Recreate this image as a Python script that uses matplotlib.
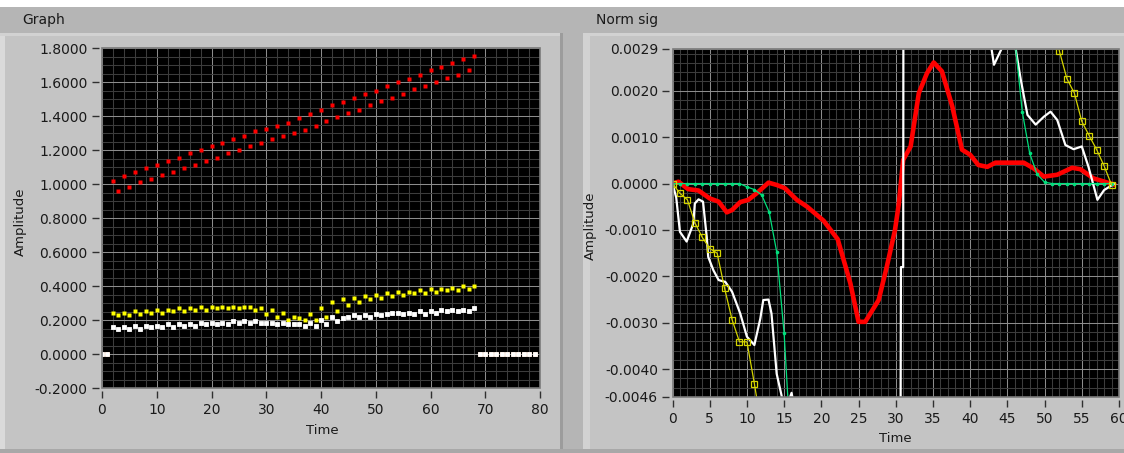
import numpy as np
import matplotlib
matplotlib.use("Agg")
import matplotlib.pyplot as plt
from matplotlib.patches import Rectangle
from matplotlib.ticker import MultipleLocator, FixedLocator, FixedFormatter

W, H = 1124, 453

# ---------------- Left graph ("Graph") ----------------
graph_time = list(range(80))
graph_red = [0, 0,
             1.017, 0.957, 1.050, 0.983, 1.068, 1.009, 1.096, 1.027, 1.111, 1.052,
             1.137, 1.070, 1.155, 1.096, 1.180, 1.111, 1.198, 1.137, 1.221, 1.155,
             1.239, 1.180, 1.264, 1.198, 1.282, 1.223, 1.310, 1.239, 1.326, 1.267,
             1.343, 1.284, 1.361, 1.300, 1.386, 1.317, 1.412, 1.343, 1.438, 1.369,
             1.463, 1.394, 1.481, 1.420, 1.506, 1.438, 1.532, 1.463, 1.547, 1.489,
             1.575, 1.506, 1.600, 1.532, 1.616, 1.557, 1.642, 1.575, 1.668, 1.601,
             1.686, 1.626, 1.711, 1.644, 1.736, 1.670, 1.754,
             0, 0, 0, 0, 0, 0, 0, 0, 0, 0, 0]
graph_yellow = [0, 0,
                0.244, 0.228, 0.244, 0.228, 0.254, 0.236, 0.254, 0.244, 0.261, 0.244,
                0.261, 0.254, 0.270, 0.254, 0.270, 0.261, 0.279, 0.261, 0.279, 0.270,
                0.279, 0.270, 0.279, 0.270, 0.279, 0.279, 0.261, 0.270, 0.236, 0.261,
                0.220, 0.244, 0.202, 0.220, 0.211, 0.202, 0.236, 0.202, 0.270, 0.218,
                0.305, 0.254, 0.323, 0.287, 0.330, 0.305, 0.340, 0.323, 0.348, 0.330,
                0.356, 0.340, 0.366, 0.348, 0.366, 0.356, 0.374, 0.356, 0.382, 0.366,
                0.382, 0.374, 0.391, 0.374, 0.399, 0.382, 0.399,
                0, 0, 0, 0, 0, 0, 0, 0, 0, 0, 0]
graph_white = [0, 0,
               0.159, 0.149, 0.159, 0.149, 0.167, 0.149, 0.167, 0.159, 0.167, 0.159,
               0.175, 0.159, 0.175, 0.167, 0.175, 0.167, 0.183, 0.175, 0.183, 0.175,
               0.183, 0.175, 0.193, 0.183, 0.193, 0.183, 0.193, 0.183, 0.183, 0.183,
               0.175, 0.183, 0.175, 0.175, 0.175, 0.165, 0.185, 0.165, 0.201, 0.175,
               0.218, 0.193, 0.211, 0.218, 0.228, 0.218, 0.228, 0.218, 0.236, 0.228,
               0.236, 0.244, 0.244, 0.236, 0.244, 0.236, 0.254, 0.236, 0.254, 0.244,
               0.261, 0.254, 0.261, 0.254, 0.261, 0.254, 0.270,
               0, 0, 0, 0, 0, 0, 0, 0, 0, 0, 0]
graph_yticks = [-0.2, 0.0, 0.2, 0.4, 0.6, 0.8, 1.0, 1.2, 1.4, 1.6, 1.8]
graph_ylabels = ["-0.2000", "0.0000", "0.2000", "0.4000", "0.6000", "0.8000",
                 "1.0000", "1.2000", "1.4000", "1.6000", "1.8000"]
graph_xticks = [0, 10, 20, 30, 40, 50, 60, 70, 80]

# ---------------- Right graph ("Norm sig"), values in units of 1e-3 ----------------
norm_red_t = [0, 0.8, 2.1, 3.5, 5.0, 6.2, 7.3, 8.0, 9.1, 10.2, 11.3, 12.9, 14.0, 15.1,
              16.7, 18.1, 20.3, 22.2, 23.9, 25.0, 25.9, 27.7, 28.8, 29.9, 30.4, 31.0,
              32.0, 33.1, 34.2, 35.1, 36.2, 37.6, 38.9, 40.0, 41.1, 42.3, 43.4, 47.2,
              48.5, 49.9, 51.7, 53.7, 54.8, 56.6, 59.3]
norm_red_m = [0, 0.04, -0.12, -0.15, -0.32, -0.39, -0.62, -0.57, -0.40, -0.35, -0.21,
              0.02, -0.03, -0.10, -0.35, -0.50, -0.80, -1.20, -2.15, -2.98, -2.98,
              -2.51, -1.79, -1.00, -0.45, 0.51, 0.80, 1.95, 2.38, 2.61, 2.42, 1.66,
              0.73, 0.62, 0.40, 0.36, 0.45, 0.45, 0.33, 0.15, 0.19, 0.34, 0.31, 0.11,
              -0.02]

norm_white_t = [0, 0.5, 1.0, 1.9, 2.8, 3.0, 3.5, 4.1, 4.6, 4.8, 5.5, 6.2, 7.1, 8.0, 9.1,
                10.0, 11.0, 11.8, 12.2, 12.9, 13.3, 14.0, 14.7, 15.2, 16.0, 16.8,
                30.6, 30.7, 31.0, 31.05, 42.0, 42.4, 43.2, 44.8, 45.4, 46.8, 47.7, 48.8,
                49.9, 50.8, 51.7, 52.8, 53.9, 55.0, 55.9, 57.1, 58.0, 59.3]
norm_white_m = [0, -0.30, -1.04, -1.25, -0.86, -0.43, -0.34, -0.39, -1.15, -1.58, -1.87,
                -2.08, -2.12, -2.33, -2.80, -3.30, -3.48, -2.91, -2.51, -2.50, -2.80,
                -4.10, -4.60, -4.90, -4.51, -5.20,
                -8.0, -1.80, -1.80, 8.0, 8.0, 3.40, 2.56, 3.10, 3.60, 2.24, 1.48, 1.27,
                1.44, 1.55, 1.37, 0.83, 0.74, 0.80, 0.36, -0.35, -0.14, -0.01]

nan = float("nan")
norm_green_t = [0, 1, 2, 3, 4, 5, 6, 7, 8, 9, 10, 11, 12, 13, 14, 15, 16, 30.7,
                46, 47, 48, 49, 50, 51, 52, 53, 54, 55, 56, 57, 58, 59]
norm_green_m = [0, 0, 0, 0, 0, 0, 0, 0, 0, 0, -0.07, -0.13, -0.25, -0.62, -1.47, -3.23,
                -6.0, nan, 3.10, 1.55, 0.65, 0.20, 0.03, 0, 0, 0, 0, 0, 0, 0, 0, 0]

norm_yellow_t = [0, 1, 2, 3, 4, 5, 6, 7, 8, 9, 10, 11, 12, 30.7,
                 51, 52, 53, 54, 55, 56, 57, 58, 59]
norm_yellow_m = [0, -0.21, -0.35, -0.84, -1.16, -1.40, -1.50, -2.26, -2.93, -3.41, -3.41,
                 -4.31, -5.30, nan, 3.50, 2.85, 2.26, 1.95, 1.34, 1.03, 0.73, 0.38, -0.03]

norm_yticks = [-0.0046, -0.0040, -0.0030, -0.0020, -0.0010, 0.0, 0.0010, 0.0020, 0.0029]
norm_ylabels = ["-0.0046", "-0.0040", "-0.0030", "-0.0020", "-0.0010", "0.0000",
                "0.0010", "0.0020", "0.0029"]
norm_xticks = [0, 5, 10, 15, 20, 25, 30, 35, 40, 45, 50, 55, 60]

plt.rcParams['font.family'] = ['DejaVu Sans']

fig = plt.figure(figsize=(W / 100, H / 100), dpi=100, facecolor='white')


def prect(x0, y0, x1, y1, color, z=0):
    fig.add_artist(Rectangle((x0 / W, 1 - y1 / H), (x1 - x0) / W, (y1 - y0) / H,
                             transform=fig.transFigure, fc=color, ec='none', zorder=z))


# panels / background
prect(0, 0, W, 7, '#ffffff')
prect(0, 7, W, 33, '#b5b5b5')
prect(0, 33, 563, 453, '#c4c4c4')
prect(0, 33, 5, 453, '#dadada')
prect(0, 33, 563, 36, '#d2d2d2')
prect(560, 33, 563, 453, '#9c9c9c')
prect(563, 33, 583, 453, '#b5b5b5')
prect(583, 33, W, 453, '#c4c4c4')
prect(583, 33, 590, 453, '#d2d2d2')
prect(583, 33, W, 36, '#d2d2d2')
prect(0, 449, W, 453, '#a8a8a8')

fig.text(22 / W, 1 - 20 / H, 'Graph', ha='left', va='center', fontsize=10, color='#1a1a1a')
fig.text(596 / W, 1 - 20 / H, 'Norm sig', ha='left', va='center', fontsize=10, color='#1a1a1a')


def make_ax(x0, y0, x1, y1):
    ax = fig.add_axes([x0 / W, 1 - y1 / H, (x1 - x0) / W, (y1 - y0) / H])
    ax.set_facecolor('black')
    for s in ax.spines.values():
        s.set_visible(False)
    ax.spines['left'].set_position(('outward', 2.5))
    ax.spines['bottom'].set_position(('outward', 2.5))
    ax.tick_params(which='major', direction='out', length=5, width=1, color='#303030',
                   labelsize=10, labelcolor='#1a1a1a', pad=3)
    ax.tick_params(which='minor', length=0)
    ax.grid(which='minor', color='#3c3c3c', lw=0.75)
    ax.grid(which='major', color='#8c8c8c', lw=0.75)
    ax.set_axisbelow(True)
    ax.add_patch(Rectangle((0, 0), 1, 1, transform=ax.transAxes, fill=False,
                           ec='#7a7a7a', lw=1.2, clip_on=False, zorder=10))
    return ax


# ---- left
ax1 = make_ax(102, 48, 540, 388)
ax1.set_xlim(0, 80)
ax1.set_ylim(-0.2, 1.8)
ax1.xaxis.set_major_locator(FixedLocator(graph_xticks))
ax1.xaxis.set_minor_locator(MultipleLocator(2))
ax1.yaxis.set_major_locator(FixedLocator(graph_yticks))
ax1.yaxis.set_major_formatter(FixedFormatter(graph_ylabels))
ax1.yaxis.set_minor_locator(MultipleLocator(0.05))
ms = 3.3
ax1.plot(graph_time, graph_yellow, ls='none', marker='s', ms=ms, mfc='#ffff00', mec='none', zorder=3)
ax1.plot(graph_time, graph_red, ls='none', marker='s', ms=ms, mfc='#ff0000', mec='none', zorder=3)
ax1.plot(graph_time, graph_white, ls='none', marker='s', ms=3.0, mfc='#ffffff',
         mec='#ffffff', mew=0.6, zorder=3)
fig.text(20 / W, 1 - 222 / H, 'Amplitude', rotation=90, ha='center', va='center',
         fontsize=9.5, color='#1a1a1a')
fig.text(322 / W, 1 - 431 / H, 'Time', ha='center', va='center', fontsize=9.5, color='#1a1a1a')

# ---- right
ax2 = make_ax(672.5, 49, 1119, 397)
ax2.set_xlim(0, 60)
ax2.set_ylim(-0.0046, 0.0029)
ax2.xaxis.set_major_locator(FixedLocator(norm_xticks))
ax2.xaxis.set_minor_locator(MultipleLocator(1))
ax2.yaxis.set_major_locator(FixedLocator(norm_yticks))
ax2.yaxis.set_major_formatter(FixedFormatter(norm_ylabels))
ax2.yaxis.set_minor_locator(MultipleLocator(0.0002))

to_units = lambda vals: [v * 1e-3 for v in vals]
ax2.plot(norm_red_t, to_units(norm_red_m), color='#ff0000', lw=3.3, zorder=3,
         solid_joinstyle='round')
ax2.plot(norm_white_t, to_units(norm_white_m), color='#ffffff', lw=1.6, zorder=4)
ax2.plot(norm_green_t, to_units(norm_green_m), color='#00e07c', lw=0.9, marker='o',
         ms=2.6, mec='none', mfc='#00e07c', zorder=5)
ax2.plot(norm_yellow_t, to_units(norm_yellow_m), color='#d4d400', lw=0.9, marker='s',
         ms=4.0, mfc='none', mec='#d4d400', mew=0.9, zorder=6)
fig.text(590 / W, 1 - 226 / H, 'Amplitude', rotation=90, ha='center', va='center',
         fontsize=9.5, color='#1a1a1a')
fig.text(895 / W, 1 - 438 / H, 'Time', ha='center', va='center', fontsize=9.5, color='#1a1a1a')

fig.savefig('out.png', dpi=100, facecolor=fig.get_facecolor())
